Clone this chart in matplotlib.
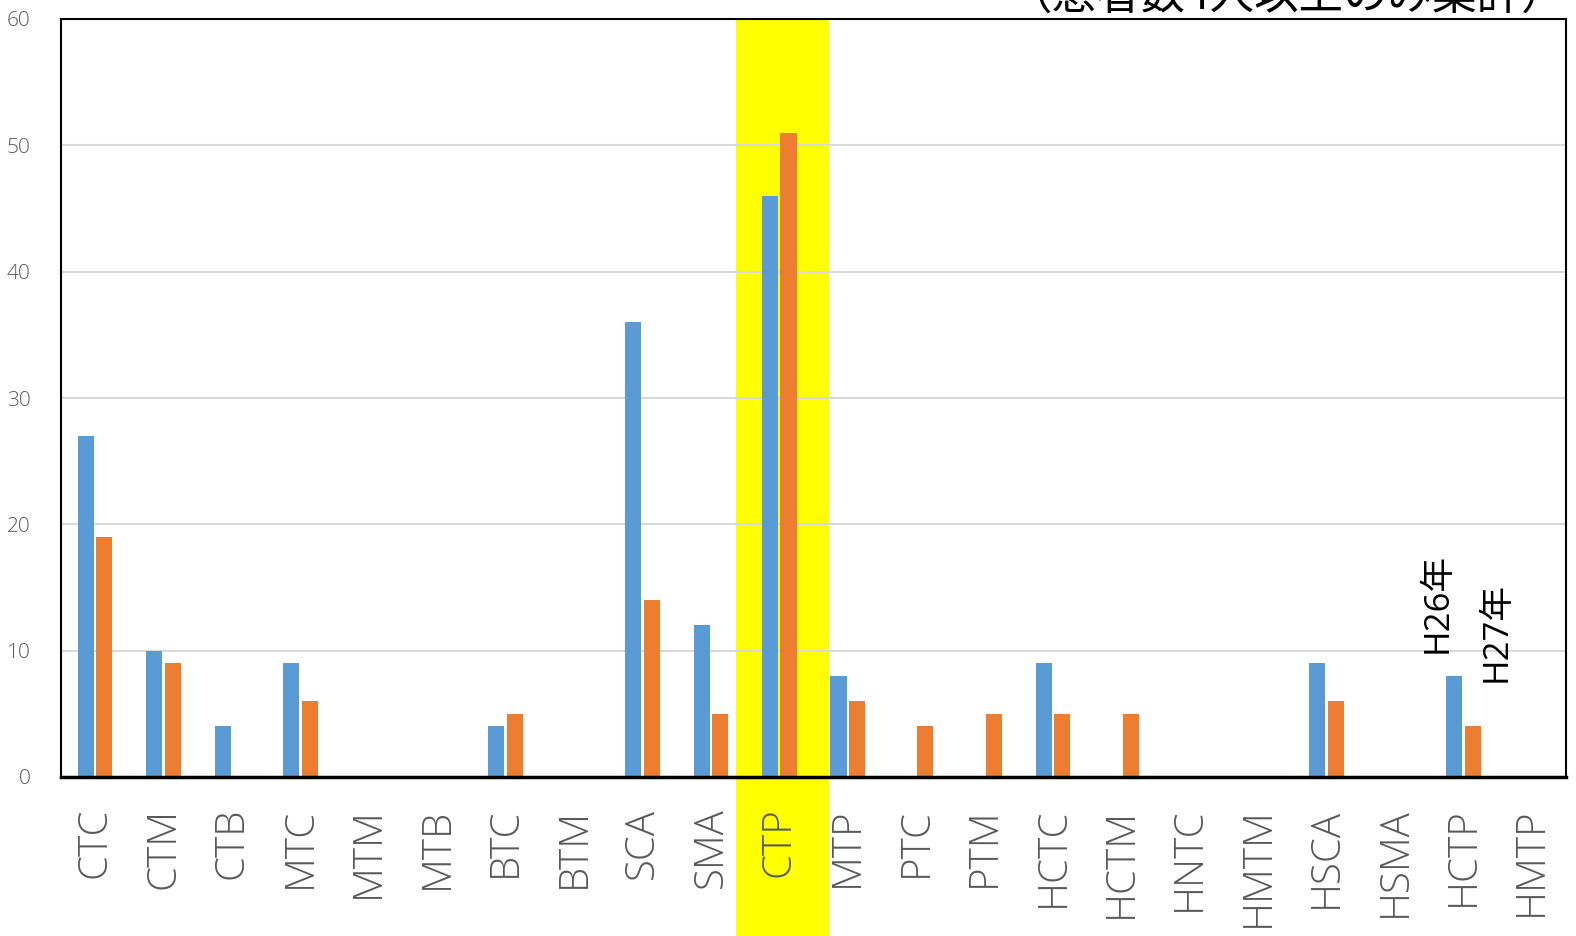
import matplotlib
matplotlib.use('Agg')
import matplotlib.pyplot as plt
from matplotlib.patches import Rectangle
from matplotlib.transforms import blended_transform_factory
import numpy as np

plt.rcParams['font.family'] = ['Noto Sans CJK JP', 'DejaVu Sans']

categories = ['CTC', 'CTM', 'CTB', 'MTC', 'MTM', 'MTB', 'BTC', 'BTM', 'SCA', 'SMA', 'CTP',
              'MTP', 'PTC', 'PTM', 'HCTC', 'HCTM', 'HNTC', 'HMTM', 'HSCA', 'HSMA', 'HCTP', 'HMTP']
h26 = [27, 10, 4, 9, 0, 0, 4, 0, 36, 12, 46, 8, 0, 0, 9, 0, 0, 0, 9, 0, 8, 0]
h27 = [19, 9, 0, 6, 0, 0, 5, 0, 14, 5, 51, 6, 4, 5, 5, 5, 0, 0, 6, 0, 4, 0]
series_names = ['H26年', 'H27年']
title = '（患者数4人以上のみ集計）'
highlight = 'CTP'

fig = plt.figure(figsize=(15.76, 9.36), dpi=100)
ax = fig.add_axes([61/1576, 1 - 777/936, (1566-61)/1576, (777-19)/936])
ax.set_facecolor('none')

x = np.arange(len(categories))
w = 0.235
ax.bar(x - 0.135, h26, w, color='#5b9bd5', zorder=3)
ax.bar(x + 0.135, h27, w, color='#ed7d31', zorder=3)

ax.set_xlim(-0.5, len(categories) - 0.5)
ax.set_ylim(0, 60)

# yellow highlight behind the axes, runs down through the tick labels
hi = categories.index(highlight)
trans = blended_transform_factory(ax.transData, fig.transFigure)
fig.patches.append(Rectangle((hi - 0.63, 0), 1.36, 1 - 19/936, transform=trans,
                             facecolor='#ffff00', edgecolor='none', zorder=-1, figure=fig))

ax.set_yticks(range(0, 61, 10))
ax.yaxis.grid(True, color='#d9d9d9', linewidth=1.5, zorder=0)
ax.set_axisbelow(True)
ax.set_xticks(x)
ax.set_xticklabels(categories, rotation=90, fontsize=29, color='#595959',
                   family=['Open Sans', 'DejaVu Sans'], fontweight='light')
ax.tick_params(axis='x', length=0, pad=22)
ax.tick_params(axis='y', length=0, pad=22, labelsize=15, labelcolor='#595959')
for lbl in ax.get_yticklabels():
    lbl.set_family(['Open Sans', 'DejaVu Sans'])
    lbl.set_fontweight('light')
for s in ax.spines.values():
    s.set_color('black')
    s.set_linewidth(1.5)
ax.spines['bottom'].set_linewidth(2.5)
ax.spines['bottom'].set_zorder(4)

# series labels standing in for a legend
lab_font = ['Open Sans', 'Noto Sans CJK JP', 'DejaVu Sans']
ax.text(19.62, 9.8, series_names[0], rotation=90, fontsize=25, ha='center', va='bottom',
        zorder=5, family=lab_font)
ax.text(20.49, 7.5, series_names[1], rotation=90, fontsize=25, ha='center', va='bottom',
        zorder=5, family=lab_font)

fig.text(1566/1576, 1 - 19/936, title, fontsize=32, ha='right', va='bottom')

fig.savefig('out.png', dpi=100)
